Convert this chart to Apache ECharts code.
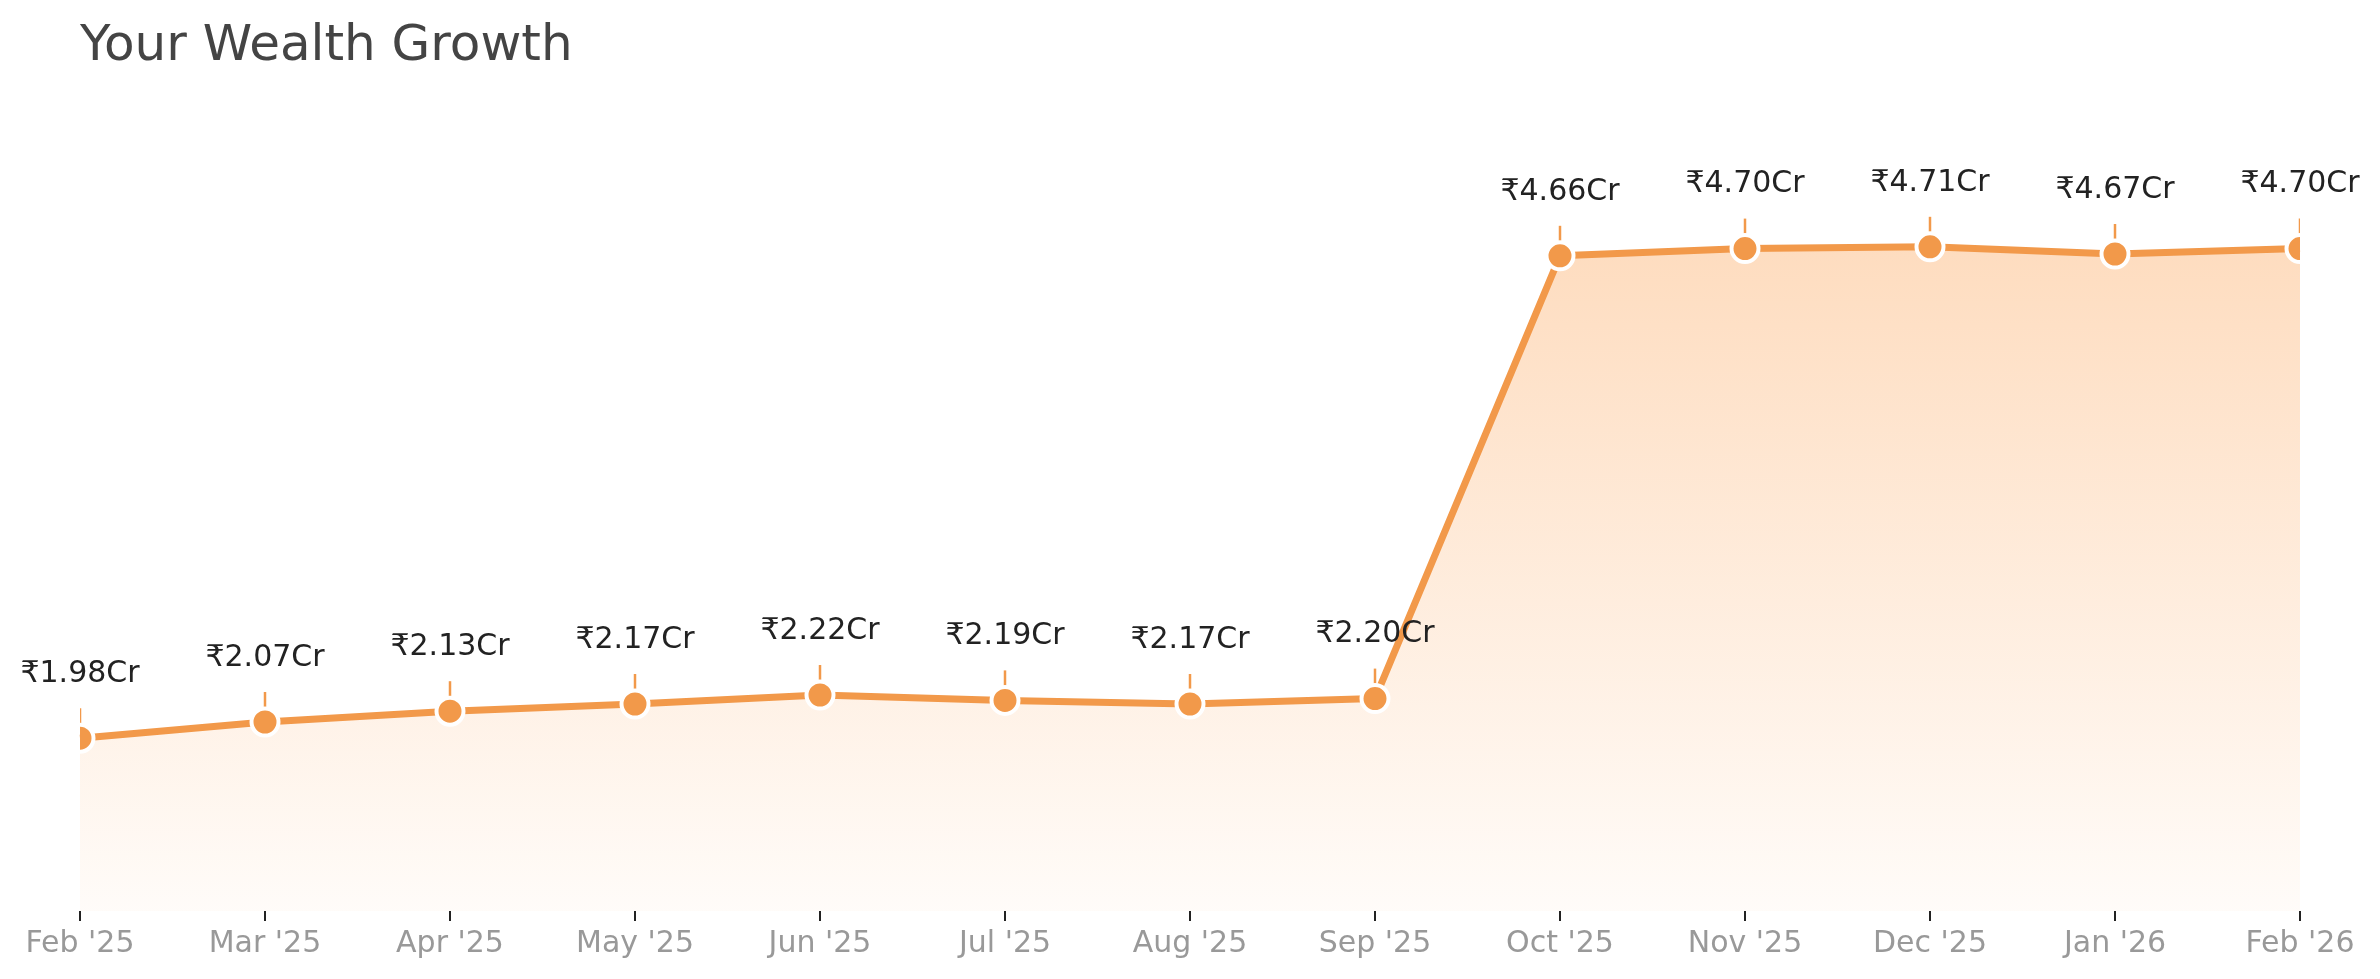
<!DOCTYPE html>
<html>
<head>
<meta charset="utf-8">
<script src="https://cdn.jsdelivr.net/npm/echarts@6/dist/echarts.min.js"></script>
<style>
html,body{margin:0;padding:0;background:#fff;}
#chart{width:2380px;height:979px;}
</style>
</head>
<body>
<div id="chart"></div>
<script>
var categories = ["Feb '25","Mar '25","Apr '25","May '25","Jun '25","Jul '25","Aug '25","Sep '25","Oct '25","Nov '25","Dec '25","Jan '26","Feb '26"];
var wealthCr = [1.98, 2.07, 2.13, 2.17, 2.22, 2.19, 2.17, 2.20, 4.66, 4.70, 4.71, 4.67, 4.70];
var titleText = 'Your Wealth Growth';

var ORANGE = '#F2994A';
var FONT = 'DejaVu Sans';

var chart = echarts.init(document.getElementById('chart'), null, {renderer: 'canvas'});
var markerData = wealthCr.map(function (v, i) { return [i, v]; });

chart.setOption({
  animation: false,
  backgroundColor: '#ffffff',
  title: {
    text: titleText,
    left: 80,
    top: 22,
    padding: 0,
    textStyle: {fontFamily: FONT, fontSize: 50, fontWeight: 'normal', color: '#444444'}
  },
  grid: {left: 80, right: 80, top: 119, bottom: 68, containLabel: false},
  xAxis: {
    type: 'category',
    data: categories,
    boundaryGap: false,
    axisLine: {show: false},
    axisTick: {show: true, length: 10, lineStyle: {color: '#222222', width: 2}},
    axisLabel: {color: '#999999', fontFamily: FONT, fontSize: 30, margin: 18},
    splitLine: {show: false}
  },
  yAxis: {
    type: 'value',
    min: 1.02,
    max: 5.42,
    show: false,
    splitLine: {show: false}
  },
  series: [
    {
      type: 'line',
      data: wealthCr,
      z: 2,
      symbol: 'circle',
      symbolSize: 2,
      showSymbol: true,
      itemStyle: {color: 'rgba(0,0,0,0)', borderWidth: 0},
      lineStyle: {color: ORANGE, width: 7},
      areaStyle: {
        color: new echarts.graphic.LinearGradient(0, 0, 0, 1, [
          {offset: 0, color: 'rgba(252,160,80,0.52)'},
          {offset: 1, color: 'rgba(252,160,80,0.05)'}
        ])
      },
      label: {
        show: true,
        position: 'inside',
        offset: [0, -64],
        color: '#222222',
        fontFamily: FONT,
        fontSize: 30,
        formatter: function (p) { return '\u20B9' + p.value.toFixed(2) + 'Cr'; }
      },
      emphasis: {disabled: true},
      silent: true
    },
    {
      type: 'custom',
      data: markerData,
      z: 3,
      clip: true,
      silent: true,
      encode: {x: 0, y: 1},
      renderItem: function (params, api) {
        var pt = api.coord([api.value(0), api.value(1)]);
        return {
          type: 'group',
          children: [
            {
              type: 'line',
              shape: {x1: pt[0], y1: pt[1], x2: pt[0], y2: pt[1] - 30},
              style: {stroke: ORANGE, lineWidth: 2.5}
            },
            {
              type: 'circle',
              shape: {cx: pt[0], cy: pt[1], r: 13.5},
              style: {fill: ORANGE, stroke: '#ffffff', lineWidth: 4}
            }
          ]
        };
      }
    }
  ]
});
</script>
</body>
</html>
